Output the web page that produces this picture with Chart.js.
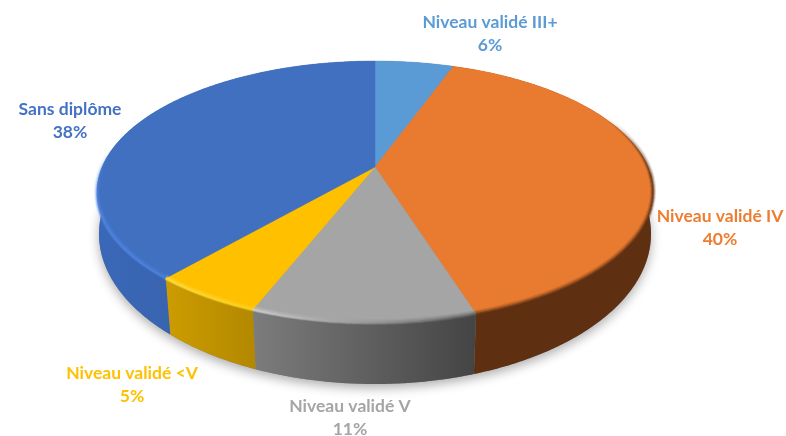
<!DOCTYPE html>
<html><head><meta charset="utf-8">
<style>html,body{margin:0;padding:0;background:#fff}#w{width:786px;height:436px}canvas{display:block;filter:blur(0.45px)}</style>
<script src="https://cdn.jsdelivr.net/npm/chart.js@4"></script></head>
<body><div id="w"><canvas id="c" width="786" height="436"></canvas></div>
<script>
const categories = ["Niveau validé III+","Niveau validé IV","Niveau validé V","Niveau validé <V","Sans diplôme"];
const shownPercents = [6,40,11,5,38];
const sliceValues = [5.5,39.6,10.9,5.4,38.6];
const topColors = ["#5B9BD5","#E97B30","#A5A5A5","#FFC000","#4070BF"];
const textColors = ["#5B9BD5","#ED7D31","#A5A5A5","#FFC000","#4472C4"];
const wallLeft = ["#3F6E99","#5E2F11","#7C7C7C","#CC9C00","#3A68B8"];
const wallRight = ["#3F6E99","#5E2F11","#444444","#B38800","#335796"];
const bevelLeft = ["#5B9BD5","#5E2F11","#D4D4D4","#FFE24A","#4F86E6"];
const bevelRight = ["#5B9BD5","#5E2F11","#555555","#FFD21E","#4C82DE"];
const labelCentres = [[490,22],[720,216],[350,406],[132,373],[70,109]];

// perspective of the pie's plane
const CX=375, CY=167, K=0.191, A=126.2, B=272.9;
const P=(t)=>{const u=Math.sin(t),v=-Math.cos(t),w=1-K*v;return [CX+B*u/w,CY+A*v/w];};
// lower rim: an ellipse centred at (CX,234), 276 by 150, reached with slight convergence
const Q=(p)=>{const dx=p[0]-CX, s=0.978+0.015*Math.max(0,(Math.abs(dx)-210)/68), d=Math.max(-276,Math.min(276,dx*s));
  const h=150*Math.sqrt(Math.max(0,1-(d/276)*(d/276)));return [CX+d,p[1]>=192?234+h:234-h];};
const samples=(a,b)=>{const n=Math.max(2,Math.ceil((b-a)/0.01)),r=[];for(let i=0;i<=n;i++)r.push(a+(b-a)*i/n);return r;};

const pie3d={id:'pie3d',
  beforeDatasetDraw(chart){
    const ctx=chart.ctx, arcs=chart.getDatasetMeta(0).data;
    const th=arcs.map(e=>[e.startAngle+Math.PI/2,e.endAngle+Math.PI/2]);
    // cast shadow
    ctx.save();
    ctx.shadowColor='rgba(0,0,0,0.32)';ctx.shadowBlur=11;ctx.shadowOffsetY=4;ctx.fillStyle='#888';
    ctx.beginPath();samples(0,2*Math.PI).forEach((t,i)=>{const q=Q(P(t));i?ctx.lineTo(q[0],q[1]):ctx.moveTo(q[0],q[1]);});ctx.closePath();ctx.fill();
    ctx.restore();
    // walls
    th.forEach(([a,b],i)=>{
      const ts=samples(a,b), top=ts.map(P), bot=ts.map(t=>Q(P(t)));
      const xs=top.concat(bot).map(p=>p[0]), x0=Math.min(...xs), x1=Math.max(...xs);
      const g=ctx.createLinearGradient(x0,0,Math.max(x1,x0+1),0);g.addColorStop(0,wallLeft[i]);g.addColorStop(1,wallRight[i]);
      ctx.fillStyle=g;ctx.beginPath();
      top.forEach((p,j)=>j?ctx.lineTo(p[0],p[1]):ctx.moveTo(p[0],p[1]));
      bot.reverse().forEach(p=>ctx.lineTo(p[0],p[1]));
      ctx.closePath();ctx.fill();
    });
    // faces
    th.forEach(([a,b],i)=>{
      ctx.fillStyle=topColors[i];ctx.strokeStyle=topColors[i];ctx.lineWidth=0.5;
      ctx.beginPath();ctx.moveTo(CX,CY);samples(a,b).forEach(t=>{const p=P(t);ctx.lineTo(p[0],p[1]);});ctx.closePath();ctx.fill();ctx.stroke();
    });
    // rim bevel
    const bevelFrom=1.15, bevelTo=4.85;
    ctx.save();ctx.lineCap='butt';
    th.forEach(([a,b],i)=>{
      const s=Math.max(a,bevelFrom), e=Math.min(b,bevelTo); if(e<=s) return;
      const ts=samples(s,e), pts=ts.map(P), xs=pts.map(p=>p[0]);
      const x0=Math.min(...xs), x1=Math.max(...xs);
      const g=ctx.createLinearGradient(x0,0,Math.max(x1,x0+1),0);g.addColorStop(0,bevelLeft[i]);g.addColorStop(1,bevelRight[i]);
      ctx.strokeStyle=g;
      [[6,0.18,-1],[4,0.35,-0.5],[2,0.65,0]].forEach(([lw,al,dy])=>{
        ctx.lineWidth=lw;
        for(let j=0;j<pts.length-1;j+=1){
          const t=ts[j], fade=Math.min(1,(t-bevelFrom)/0.5,(bevelTo-t)/0.5);
          ctx.globalAlpha=al*Math.max(0,fade);
          ctx.beginPath();ctx.moveTo(pts[j][0],pts[j][1]+dy);ctx.lineTo(pts[j+1][0],pts[j+1][1]+dy);ctx.stroke();
        }
      });
    });
    ctx.restore();
    return false;
  },
  afterDatasetsDraw(chart){
    const ctx=chart.ctx;
    ctx.save();ctx.font='bold 17.5px Lato';ctx.textAlign='center';ctx.textBaseline='middle';
    categories.forEach((c,i)=>{
      ctx.fillStyle=textColors[i];
      ctx.fillText(c,labelCentres[i][0],labelCentres[i][1]);
      ctx.fillText(shownPercents[i]+'%',labelCentres[i][0],labelCentres[i][1]+23);
    });
    ctx.restore();
  }};
new Chart(document.getElementById('c'),{type:'pie',
  data:{labels:categories,datasets:[{data:sliceValues,backgroundColor:topColors,borderWidth:0}]},
  options:{responsive:false,animation:false,plugins:{legend:{display:false},tooltip:{enabled:false}}},
  plugins:[pie3d]});
</script></body></html>
